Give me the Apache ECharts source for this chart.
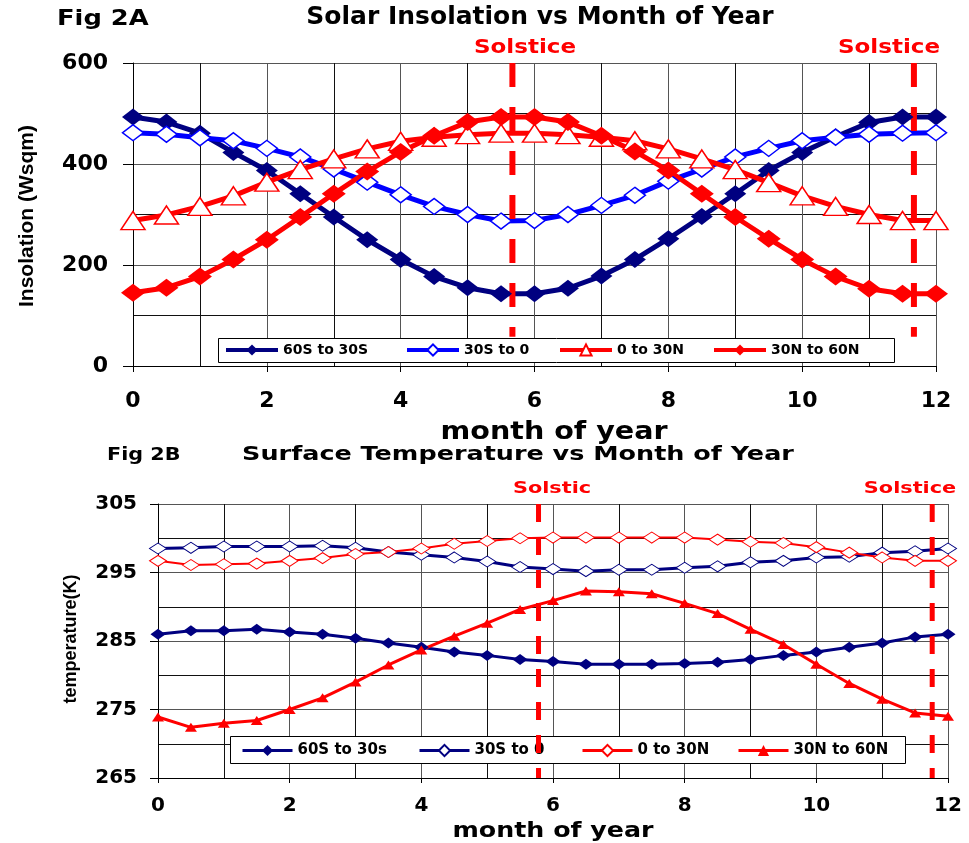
<!DOCTYPE html>
<html>
<head>
<meta charset="utf-8">
<title>Fig 2A / 2B</title>
<script src="https://cdn.jsdelivr.net/npm/echarts@6.0.0/dist/echarts.min.js"></script>
<style>
    body { margin: 0; background: #fff; }
    #chart_show { width: 969px; height: 843px; }
</style>
</head>
<body>
<div id="chart_show"></div>
<script>
// Fig 2A 日照 (W/sqm)
var monthsA = [0, 0.5, 1, 1.5, 2, 2.5, 3, 3.5, 4, 4.5, 5, 5.5, 6, 6.5, 7, 7.5, 8, 8.5, 9, 9.5, 10, 10.5, 11, 11.5, 12];
var ins60S30S = [493, 483, 461, 423, 387, 341, 295, 250, 211, 177, 155, 143, 143, 154, 178, 211, 252, 296, 341, 387, 423, 454, 482, 493, 493];
var ins30S0 = [462, 459, 452, 446, 431, 414, 390, 364, 339, 316, 300, 287, 288, 300, 318, 338, 366, 390, 414, 431, 446, 453, 459, 461, 462];
var ins0N30N = [288, 299, 316, 337, 364, 389, 410, 430, 445, 453, 458, 461, 461, 458, 453, 446, 430, 410, 389, 363, 337, 316, 300, 288, 288];
var ins30N60N = [145, 155, 177, 211, 250, 295, 341, 385, 424, 456, 483, 493, 493, 483, 456, 425, 387, 341, 295, 252, 211, 177, 153, 143, 143];
var namesA = ['60S to 30S', '30S to 0', '0 to 30N', '30N to 60N'];
var solsticeA = [5.67, 11.67];
var solsticeSpanA = [600, 58];

// Fig 2B 地表温度 (K)
var monthsB = [0, 0.5, 1, 1.5, 2, 2.5, 3, 3.5, 4, 4.5, 5, 5.5, 6, 6.5, 7, 7.5, 8, 8.5, 9, 9.5, 10, 10.5, 11, 11.5, 12, 12.5];
var t60S30S = [286.0, 286.5, 286.5, 286.7, 286.3, 286.0, 285.4, 284.7, 284.1, 283.4, 282.9, 282.3, 282.0, 281.6, 281.6, 281.6, 281.7, 281.9, 282.3, 282.9, 283.4, 284.1, 284.7, 285.6, 286.0, 286.2];
var t30S0 = [298.5, 298.6, 298.8, 298.8, 298.8, 298.9, 298.6, 298.0, 297.6, 297.2, 296.6, 295.8, 295.5, 295.2, 295.4, 295.4, 295.7, 295.9, 296.5, 296.7, 297.2, 297.3, 297.9, 298.1, 298.5, 298.5];
var t0N30N = [296.7, 296.1, 296.2, 296.3, 296.7, 297.1, 297.7, 298.0, 298.5, 299.2, 299.6, 300.0, 300.1, 300.1, 300.1, 300.1, 300.1, 299.8, 299.5, 299.3, 298.7, 297.9, 297.2, 296.7, 296.7, 296.7];
var t30N60N = [273.9, 272.4, 273.0, 273.4, 275.0, 276.7, 279.0, 281.5, 283.7, 285.7, 287.6, 289.6, 290.9, 292.3, 292.2, 291.9, 290.5, 289.0, 286.7, 284.5, 281.6, 278.8, 276.5, 274.5, 274.0, 273.4];
var namesB = ['60S to 30s', '30S to 0', '0 to 30N', '30N to 60N'];
var solsticeB = [5.78, 11.76];
var solsticeSpanB = [305, 265];

var NAVY = '#000080';
var BLUE = '#0000ff';
var RED = '#ff0000';
var FONT = 'DejaVu Sans';

//把x和y拼成点
function pairs(xs, ys) {
    var out = [];
    for (var i = 0; i < ys.length; i++) {
        out.push([xs[i], ys[i]]);
    }
    return out;
}

// B图的系列名加前缀,避免和A图同名
function bName(n) {
    return 'B|' + n;
}

function xAxisOf(gridIndex, tickLen, labelMargin, fontSize) {
    return {
        gridIndex: gridIndex,
        type: 'value',
        min: 0,
        max: 12,
        interval: 2,
        axisLine: { show: true, onZero: false, lineStyle: { color: '#000', width: 1 } },
        axisTick: { show: true, length: tickLen, lineStyle: { color: '#000' } },
        axisLabel: { margin: labelMargin, color: '#000', fontFamily: FONT, fontWeight: 'bold', fontSize: fontSize },
        splitLine: { show: true, lineStyle: { color: '#555', width: 1 } },
        minorTick: { show: false, splitNumber: 2 },
        minorSplitLine: { show: true, lineStyle: { color: '#111', width: 1 } }
    };
}

function yAxisOf(gridIndex, min, max, interval, tickLen, labelMargin, fontSize) {
    return {
        gridIndex: gridIndex,
        type: 'value',
        min: min,
        max: max,
        interval: interval,
        axisLine: { show: true, lineStyle: { color: '#000', width: 1 } },
        axisTick: { show: true, length: tickLen, lineStyle: { color: '#000' } },
        axisLabel: { margin: labelMargin, color: '#000', fontFamily: FONT, fontWeight: 'bold', fontSize: fontSize },
        splitLine: { show: true, lineStyle: { color: '#555', width: 1 } },
        minorTick: { show: false, splitNumber: 2 },
        minorSplitLine: { show: true, lineStyle: { color: '#111', width: 1 } }
    };
}

var series = [
    // Fig 2A
    {
        name: namesA[0], type: 'line', xAxisIndex: 0, yAxisIndex: 0,
        data: pairs(monthsA, ins60S30S),
        symbol: 'diamond', symbolSize: [22, 17],
        lineStyle: { color: NAVY, width: 5 },
        itemStyle: { color: NAVY }
    },
    {
        name: namesA[1], type: 'line', xAxisIndex: 0, yAxisIndex: 0,
        data: pairs(monthsA, ins30S0),
        symbol: 'diamond', symbolSize: [21, 16],
        lineStyle: { color: BLUE, width: 5 },
        itemStyle: { color: '#fff', borderColor: BLUE, borderWidth: 1.5 }
    },
    {
        name: namesA[2], type: 'line', xAxisIndex: 0, yAxisIndex: 0,
        data: pairs(monthsA, ins0N30N),
        symbol: 'triangle', symbolSize: [24, 18],
        lineStyle: { color: RED, width: 5 },
        itemStyle: { color: '#fff', borderColor: RED, borderWidth: 1.5 }
    },
    {
        name: namesA[3], type: 'line', xAxisIndex: 0, yAxisIndex: 0,
        data: pairs(monthsA, ins30N60N),
        symbol: 'diamond', symbolSize: [24, 18],
        lineStyle: { color: RED, width: 5 },
        itemStyle: { color: RED }
    },
    // Fig 2B
    {
        name: bName(namesB[0]), type: 'line', xAxisIndex: 1, yAxisIndex: 1, clip: false,
        data: pairs(monthsB, t60S30S),
        symbol: 'diamond', symbolSize: [15, 11],
        lineStyle: { color: NAVY, width: 3 },
        itemStyle: { color: NAVY }
    },
    {
        name: bName(namesB[1]), type: 'line', xAxisIndex: 1, yAxisIndex: 1, clip: false,
        data: pairs(monthsB, t30S0),
        symbol: 'diamond', symbolSize: [17, 11],
        lineStyle: { color: NAVY, width: 3 },
        itemStyle: { color: '#fff', borderColor: NAVY, borderWidth: 1 }
    },
    {
        name: bName(namesB[2]), type: 'line', xAxisIndex: 1, yAxisIndex: 1, clip: false,
        data: pairs(monthsB, t0N30N),
        symbol: 'diamond', symbolSize: [17, 11],
        lineStyle: { color: RED, width: 2 },
        itemStyle: { color: '#fff', borderColor: RED, borderWidth: 1 }
    },
    {
        name: bName(namesB[3]), type: 'line', xAxisIndex: 1, yAxisIndex: 1, clip: false,
        data: pairs(monthsB, t30N60N),
        symbol: 'triangle', symbolSize: [12, 9],
        lineStyle: { color: RED, width: 3 },
        itemStyle: { color: RED }
    }
];

// 夏至虚线
for (var i = 0; i < solsticeA.length; i++) {
    series.push({
        type: 'line', xAxisIndex: 0, yAxisIndex: 0, silent: true, z: 3, clip: false,
        symbol: 'none',
        data: [[solsticeA[i], solsticeSpanA[0]], [solsticeA[i], solsticeSpanA[1]]],
        lineStyle: { color: RED, width: 6, type: [24, 20] }
    });
}
for (var j = 0; j < solsticeB.length; j++) {
    series.push({
        type: 'line', xAxisIndex: 1, yAxisIndex: 1, silent: true, z: 8, clip: false,
        symbol: 'none',
        data: [[solsticeB[j], solsticeSpanB[0]], [solsticeB[j], solsticeSpanB[1]]],
        lineStyle: { color: RED, width: 5, type: [18, 15] }
    });
}

// 文字 (标题, 轴名)
function label(text, x, y, size, opts) {
    opts = opts || {};
    return {
        type: 'text',
        x: x,
        y: y,
        scaleX: opts.scaleX || 1,
        rotation: opts.rotation || 0,
        z: 10,
        style: {
            text: text,
            fill: opts.color || '#000',
            font: 'bold ' + size + 'px "' + (opts.family || FONT) + '"',
            align: opts.align || 'center',
            verticalAlign: 'middle',
            textAlign: opts.align || 'center',
            textVerticalAlign: 'middle'
        }
    };
}

var graphics = [
    // 图例外框
    { type: 'rect', z: 4, shape: { x: 218.5, y: 338.5, width: 676, height: 24 },
      style: { fill: '#fff', stroke: '#000', lineWidth: 1 } },
    { type: 'rect', z: 4, shape: { x: 230.5, y: 736.5, width: 675, height: 27 },
      style: { fill: '#fff', stroke: '#000', lineWidth: 1 } },
    label('Fig 2A', 57, 19, 22, { align: 'left', scaleX: 1.17 }),
    label('Solar Insolation vs Month of Year', 540, 17, 25),
    label('Solstice', 525, 48, 20, { color: RED, scaleX: 1.15 }),
    label('Solstice', 889, 48, 20, { color: RED, scaleX: 1.15 }),
    label('Insolation (Wsqm)', 27, 216, 21, { rotation: Math.PI / 2, family: 'Liberation Sans' }),
    label('month of year', 554, 433, 24, { scaleX: 1.19 }),
    label('Fig 2B', 107, 455, 18, { align: 'left', scaleX: 1.15 }),
    label('Surface Temperature vs Month of Year', 518, 455, 19, { scaleX: 1.34 }),
    label('Solstic', 552, 489, 16, { color: RED, scaleX: 1.3 }),
    label('Solstice', 910, 489, 16, { color: RED, scaleX: 1.3 }),
    label('temperature(K)', 71, 639, 18, { rotation: Math.PI / 2, family: 'Liberation Sans' }),
    label('month of year', 553, 831, 22, { scaleX: 1.15 })
];

// 每个图例项单独一个legend,好控制位置
var legends = [];
var legendLeftA = [224, 405, 558, 712];
var legendLeftB = [241, 418, 581, 737];
for (var a = 0; a < namesA.length; a++) {
    legends.push({
        left: legendLeftA[a], top: 343, z: 5, padding: 0,
        selectedMode: false, itemWidth: 52, itemHeight: 14,
        lineStyle: { width: 4 },
        textStyle: { fontFamily: FONT, fontWeight: 'bold', fontSize: 14, color: '#000' },
        data: [namesA[a]]
    });
}
for (var b = 0; b < namesB.length; b++) {
    legends.push({
        left: legendLeftB[b], top: 743, z: 5, padding: 0,
        selectedMode: false, itemWidth: 50, itemHeight: 14,
        lineStyle: { width: 3 },
        textStyle: { fontFamily: FONT, fontWeight: 'bold', fontSize: 15, color: '#000' },
        formatter: function(name) {
            return name.replace('B|', '');
        },
        data: [bName(namesB[b])]
    });
}

var oChart = echarts.init(document.getElementById('chart_show'), null, { renderer: 'canvas' });
var chartopt = {
    animation: false,
    backgroundColor: '#fff',
    grid: [
        { left: 133, top: 63, width: 803, height: 303 },
        { left: 158, top: 504, width: 790, height: 274 }
    ],
    xAxis: [
        xAxisOf(0, 6, 24, 22),
        xAxisOf(1, 5, 18, 20)
    ],
    yAxis: [
        yAxisOf(0, 0, 600, 200, 10, 25, 22),
        yAxisOf(1, 265, 305, 10, 8, 21, 20)
    ],
    legend: legends,
    graphic: graphics,
    series: series
};

oChart.setOption(chartopt);
</script>
</body>
</html>
